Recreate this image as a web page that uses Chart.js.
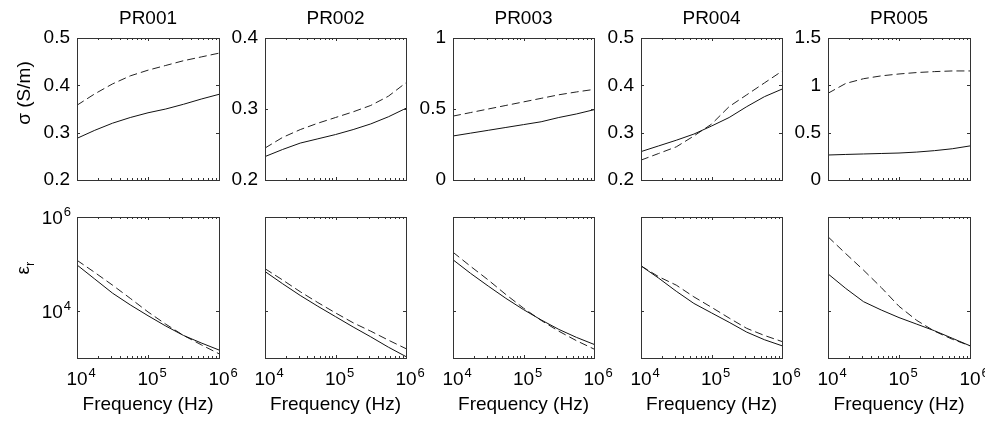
<!DOCTYPE html>
<html>
<head>
<meta charset="utf-8">
<script src="https://cdn.jsdelivr.net/npm/chart.js@4/dist/chart.umd.min.js"></script>
<style>
  body { margin: 0; background: #fff; }
  #wrap { position: relative; width: 985px; height: 423px; }
  #wrap canvas { position: absolute; left: 0; top: 0; }
</style>
</head>
<body>
<div id="wrap"></div>
<script>
// frequency samples (Hz)
const freq = [10000, 17783, 31623, 56234, 100000, 177828, 316228, 562341, 1000000];
const names = ['PR001', 'PR002', 'PR003', 'PR004', 'PR005'];

// conductivity (S/m): solid and dashed curves per sample
const sigmaSolid = [
  [0.288, 0.305, 0.320, 0.332, 0.342, 0.350, 0.360, 0.371, 0.381],
  [0.233, 0.243, 0.252, 0.258, 0.264, 0.271, 0.279, 0.289, 0.301],
  [0.31, 0.33, 0.35, 0.37, 0.39, 0.41, 0.44, 0.465, 0.495],
  [0.26, 0.272, 0.284, 0.297, 0.314, 0.332, 0.355, 0.376, 0.392],
  [0.264, 0.27, 0.275, 0.28, 0.285, 0.295, 0.31, 0.33, 0.36]
];
const sigmaDashed = [
  [0.358, 0.382, 0.403, 0.420, 0.432, 0.442, 0.452, 0.460, 0.468],
  [0.245, 0.260, 0.271, 0.280, 0.288, 0.296, 0.305, 0.318, 0.337],
  [0.45, 0.475, 0.50, 0.525, 0.55, 0.575, 0.60, 0.62, 0.638],
  [0.242, 0.256, 0.27, 0.293, 0.318, 0.355, 0.38, 0.405, 0.43],
  [0.916, 1.02, 1.07, 1.10, 1.12, 1.135, 1.145, 1.152, 1.152]
];

// relative permittivity: solid and dashed curves per sample
const epsSolid = [
  [95500, 47900, 24000, 13500, 7940, 4790, 3020, 2090, 1480],
  [69200, 38000, 21400, 12600, 7590, 4570, 2820, 1700, 1070],
  [123000, 63100, 33900, 18600, 10700, 6460, 4070, 2750, 1950],
  [91200, 50100, 26300, 14500, 9120, 5750, 3550, 2450, 1820],
  [61700, 30200, 15800, 10500, 7240, 5250, 3800, 2630, 1820]
];
const epsDashed = [
  [120000, 66100, 35500, 18600, 9550, 5250, 3020, 1910, 1230],
  [79400, 45700, 25700, 15100, 9120, 5620, 3720, 2400, 1580],
  [178000, 89100, 45700, 22400, 11500, 6310, 3720, 2340, 1550],
  [91200, 53700, 35500, 20000, 12000, 7080, 4270, 3020, 2240],
  [380000, 166000, 74100, 31600, 12600, 6310, 3720, 2510, 1820]
];

// axis limits and ticks
const sigmaMin = [0.2, 0.2, 0, 0.2, 0];
const sigmaMax = [0.5, 0.4, 1, 0.5, 1.5];
const sigmaTicks = [[0.2, 0.3, 0.4, 0.5], [0.2, 0.3, 0.4], [0, 0.5, 1], [0.2, 0.3, 0.4, 0.5], [0, 0.5, 1, 1.5]];
const epsTicks = [1e4, 1e6];
const freqTicks = [1e4, 1e5, 1e6];

// panel geometry (pixels)
const W = 985, H = 423;
const colLeft = [77, 265, 453, 641, 828];
const colRight = [219, 406, 594, 782, 970];
const rowTop = [38, 217];
const rowBottom = [180, 358];

const FONT = '"Liberation Sans", Arial, Helvetica, sans-serif';
const INK = '#000';

function powLabel(ctx, exp, x, y, align) {
  // "10" with superscript exponent; 'center' centres "10" on x, 'right' ends the exponent at x
  ctx.font = '19px ' + FONT;
  const wb = ctx.measureText('10').width;
  ctx.font = '13px ' + FONT;
  const we = ctx.measureText(String(exp)).width;
  const bx = align === 'center' ? x - wb / 2 : x - wb - we - 1;
  ctx.textAlign = 'left';
  ctx.textBaseline = 'alphabetic';
  ctx.font = '19px ' + FONT;
  ctx.fillText('10', bx, y);
  ctx.font = '13px ' + FONT;
  ctx.fillText(String(exp), bx + wb + 1, y - 8);
}

const axesPlugin = {
  id: 'matlabAxes',
  afterDraw(chart) {
    const o = chart.options.plugins.matlabAxes;
    const ctx = chart.ctx;
    const a = chart.chartArea;
    const xs = chart.scales.x, ys = chart.scales.y;
    ctx.save();
    ctx.strokeStyle = '#333';
    ctx.lineWidth = 1;
    ctx.strokeRect(a.left + 0.5, a.top + 0.5, a.right - a.left, a.bottom - a.top);
    ctx.beginPath();
    // x ticks (major + minor), top and bottom, inward
    freqTicks.forEach(v => {
      const px = Math.round(xs.getPixelForValue(v)) + 0.5;
      ctx.moveTo(px, a.bottom); ctx.lineTo(px, a.bottom - 3);
      ctx.moveTo(px, a.top); ctx.lineTo(px, a.top + 3);
    });
    [1e4, 1e5].forEach(d => {
      for (let k = 2; k <= 9; k++) {
        const px = Math.round(xs.getPixelForValue(k * d)) + 0.5;
        ctx.moveTo(px, a.bottom); ctx.lineTo(px, a.bottom - 2);
        ctx.moveTo(px, a.top); ctx.lineTo(px, a.top + 2);
      }
    });
    // y ticks, left and right, inward
    o.yTicks.forEach(v => {
      const py = Math.round(ys.getPixelForValue(v)) + 0.5;
      ctx.moveTo(a.left, py); ctx.lineTo(a.left + 3, py);
      ctx.moveTo(a.right, py); ctx.lineTo(a.right - 3, py);
    });
    ctx.stroke();

    ctx.fillStyle = INK;
    // y tick labels
    if (o.yTickLabels) {
      o.yTicks.forEach(v => {
        const py = ys.getPixelForValue(v);
        if (o.logY) {
          powLabel(ctx, Math.round(Math.log10(v)), a.left - 6, py + 7, 'right');
        } else {
          ctx.font = '19px ' + FONT;
          ctx.textAlign = 'right';
          ctx.textBaseline = 'middle';
          ctx.fillText(String(v), a.left - 7, py);
        }
      });
    }
    const cx = (a.left + a.right) / 2;
    if (o.title) {
      ctx.font = '19px ' + FONT;
      ctx.textAlign = 'center';
      ctx.textBaseline = 'alphabetic';
      ctx.fillText(o.title, cx, a.top - 14);
    }
    if (o.xLabels) {
      freqTicks.forEach(v => {
        powLabel(ctx, Math.round(Math.log10(v)), xs.getPixelForValue(v), a.bottom + 27, 'center');
      });
      ctx.font = '19px ' + FONT;
      ctx.textAlign = 'center';
      ctx.textBaseline = 'alphabetic';
      ctx.fillText('Frequency (Hz)', cx, a.bottom + 52);
    }
    if (o.yLabel) {
      ctx.translate(o.yLabelX, o.yLabelY);
      ctx.rotate(-Math.PI / 2);
      ctx.textBaseline = 'alphabetic';
      if (o.yLabel === 'eps') {
        ctx.font = '19px ' + FONT;
        const we = ctx.measureText('ε').width;
        ctx.font = '13px ' + FONT;
        const wr = ctx.measureText('r').width;
        const x0 = -(we + wr) / 2;
        ctx.textAlign = 'left';
        ctx.font = '19px ' + FONT;
        ctx.fillText('ε', x0, 0);
        ctx.font = '13px ' + FONT;
        ctx.fillText('r', x0 + we, 5);
      } else {
        ctx.font = '19px ' + FONT;
        ctx.textAlign = 'center';
        ctx.fillText(o.yLabel, 0, 0);
      }
    }
    ctx.restore();
  }
};

function makePanel(col, row) {
  const cv = document.createElement('canvas');
  cv.width = W; cv.height = H;
  document.getElementById('wrap').appendChild(cv);
  const isTop = row === 0;
  const solid = isTop ? sigmaSolid[col] : epsSolid[col];
  const dashed = isTop ? sigmaDashed[col] : epsDashed[col];
  const pts = arr => freq.map((f, i) => ({ x: f, y: arr[i] }));
  new Chart(cv.getContext('2d'), {
    type: 'line',
    data: {
      datasets: [
        { data: pts(solid), borderColor: '#111', borderWidth: 1, pointRadius: 0, tension: 0 },
        { data: pts(dashed), borderColor: '#222', borderWidth: 1, borderDash: [8, 4], pointRadius: 0, tension: 0 }
      ]
    },
    options: {
      responsive: false,
      animation: false,
      events: [],
      layout: {
        padding: { left: colLeft[col], right: W - colRight[col], top: rowTop[row], bottom: H - rowBottom[row] }
      },
      scales: {
        x: { type: 'logarithmic', min: 1e4, max: 1e6, display: false },
        y: isTop
          ? { type: 'linear', min: sigmaMin[col], max: sigmaMax[col], display: false }
          : { type: 'logarithmic', min: 1e3, max: 1e6, display: false }
      },
      plugins: {
        legend: { display: false },
        tooltip: { enabled: false },
        matlabAxes: {
          yTicks: isTop ? sigmaTicks[col] : epsTicks,
          yTickLabels: isTop || col === 0,
          logY: !isTop,
          title: isTop ? names[col] : null,
          xLabels: !isTop,
          yLabel: col === 0 ? (isTop ? 'σ (S/m)' : 'eps') : null,
          yLabelX: isTop ? 30 : 29,
          yLabelY: isTop ? 93 : 268
        }
      }
    },
    plugins: [axesPlugin]
  });
}

for (let c = 0; c < 5; c++) {
  makePanel(c, 0);
  makePanel(c, 1);
}
</script>
</body>
</html>
